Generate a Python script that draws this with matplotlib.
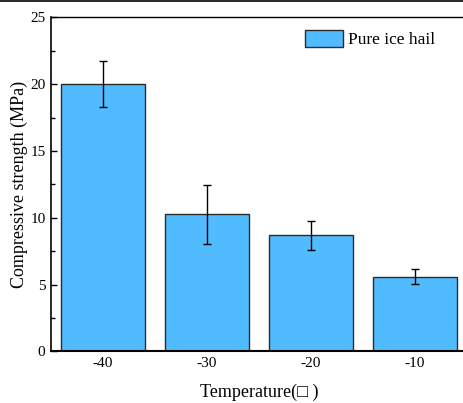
#!/usr/bin/env python3
"""Compressive strength of pure ice hail vs temperature (bar + error bars)."""
import numpy as np
import matplotlib
matplotlib.use("Agg")
import matplotlib.pyplot as plt
from matplotlib.lines import Line2D
from matplotlib.ticker import MultipleLocator

# data
temps = [-40, -30, -20, -10]
strength = [20.0, 10.25, 8.7, 5.6]
strength_err = [1.72, 2.2, 1.08, 0.57]
tick_labels = ["-40", "-30", "-20", "-10"]
series_name = "Pure ice hail"

BAR = "#50BBFF"
plt.rcParams["font.family"] = ["Liberation Serif", "DejaVu Sans"]

fig = plt.figure(figsize=(4.63, 4.03), dpi=100)
# axes runs a little past the right edge, the reference is cropped there
ax = fig.add_axes([0.1102, 0.1278, 0.8985, 0.8293])

ax.bar(temps, strength, width=8, color=BAR, edgecolor="#2a2a2a", lw=1.0,
       label=series_name, zorder=2)
ax.errorbar(temps, strength, yerr=strength_err, fmt="none", ecolor="black",
            elinewidth=1.0, capsize=2.7, capthick=1.0, zorder=3)

ax.set_xlim(-45, -5)
ax.set_ylim(0, 25)
ax.set_xticks(temps)
ax.set_xticklabels(tick_labels)
ax.yaxis.set_major_locator(MultipleLocator(5))
ax.yaxis.set_minor_locator(MultipleLocator(2.5))
ax.tick_params(axis="both", which="major", direction="in", length=4.3,
               width=1.0, labelsize=11, pad=4)
ax.tick_params(axis="y", which="minor", direction="in", length=2.8, width=1.0)
ax.tick_params(axis="x", which="minor", bottom=False)

ax.spines["left"].set_linewidth(1.2)
ax.spines["bottom"].set_linewidth(1.5)
ax.spines["top"].set_linewidth(1.0)
ax.spines["right"].set_visible(False)

ax.set_xlabel("Temperature(\u25a1 )", fontsize=13, labelpad=10)
ax.set_ylabel("Compressive strength (MPa)", fontsize=13, labelpad=1.5)

ax.legend(loc="upper left", bbox_to_anchor=(0.658, 0.925),
          bbox_transform=fig.transFigure, frameon=False, fontsize=12.5,
          handlelength=2.2, handleheight=1.1, handletextpad=0.3,
          borderpad=0, borderaxespad=0)

# thin frame line along the top of the crop
fig.add_artist(Line2D([0, 1], [0.998, 0.998], color="black", lw=1.2,
                      transform=fig.transFigure))

fig.savefig("out.png", dpi=100)
plt.close(fig)
